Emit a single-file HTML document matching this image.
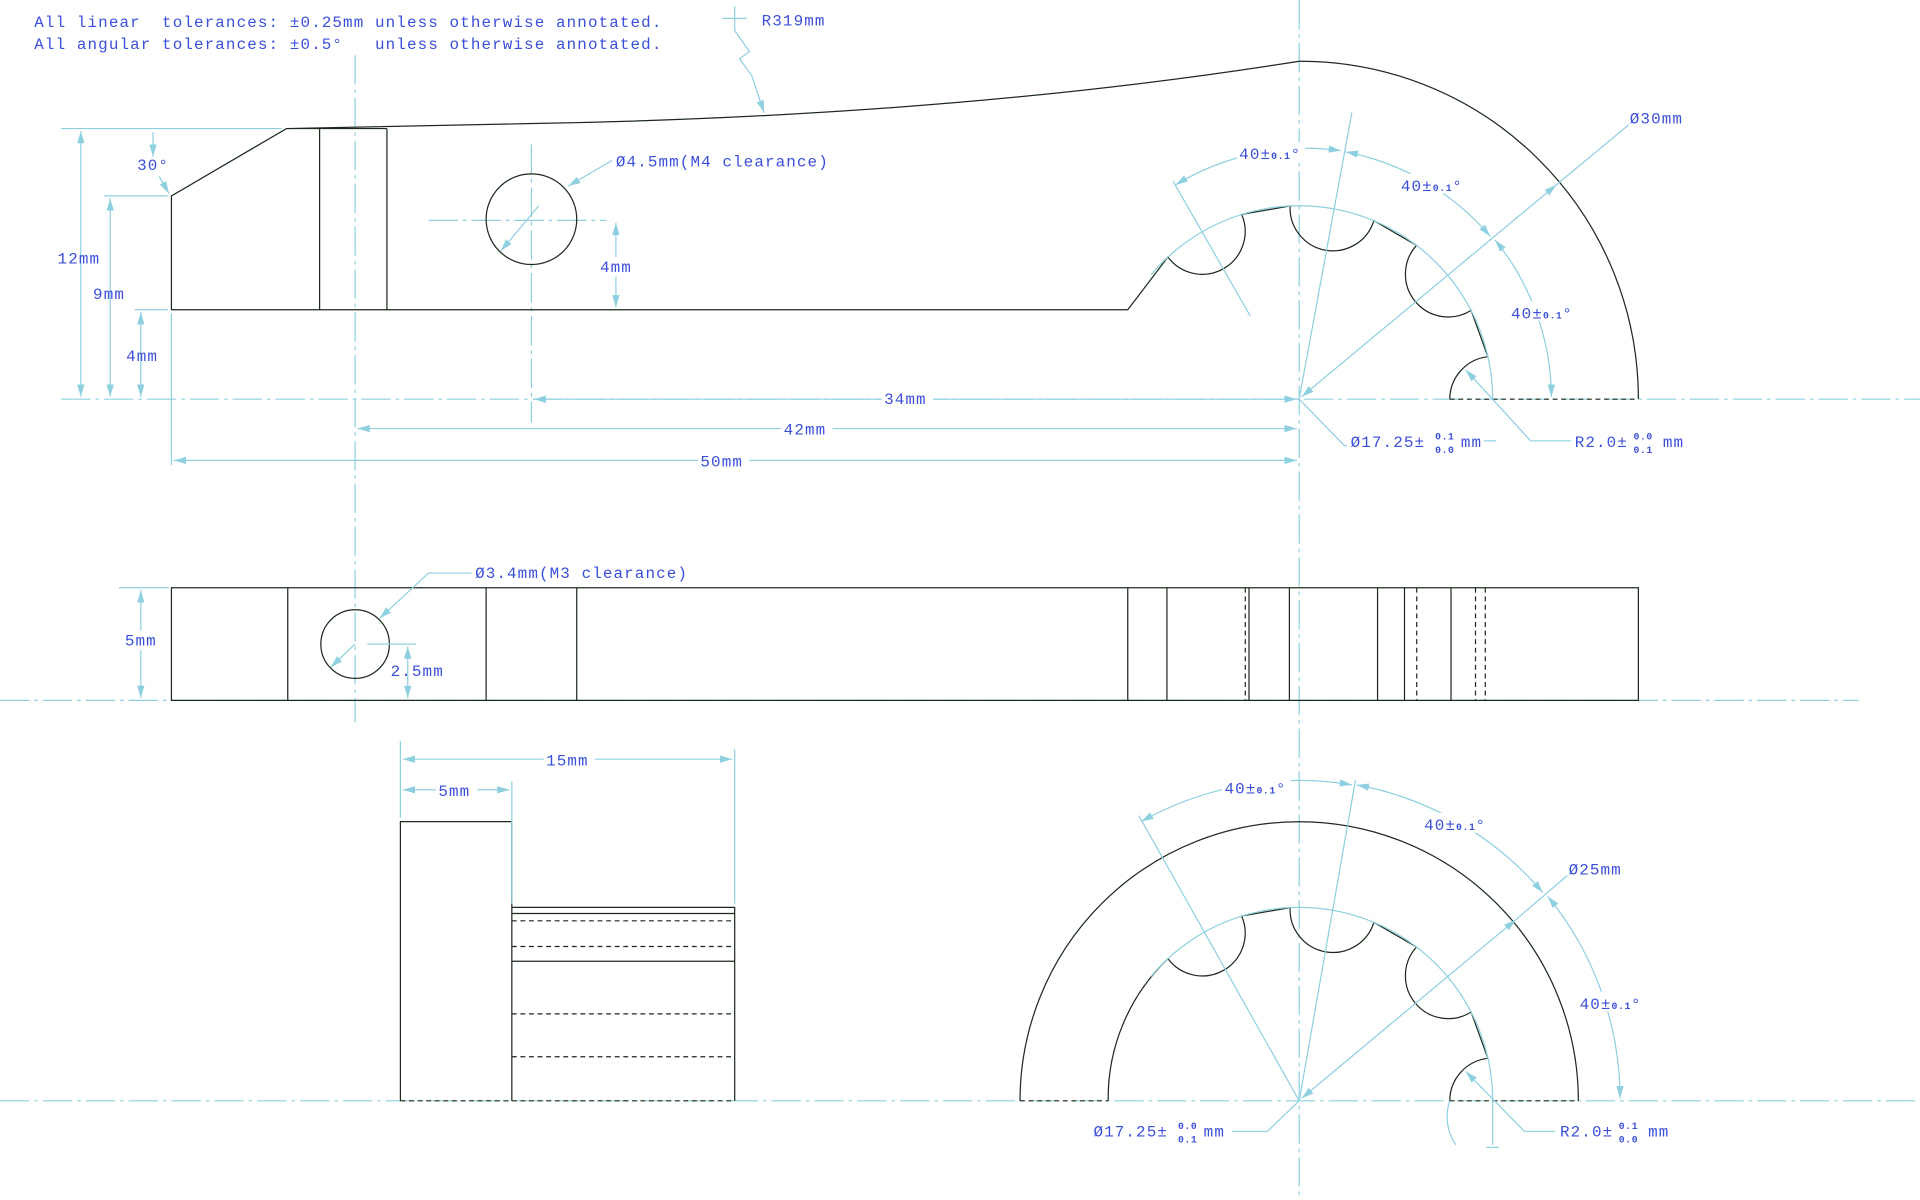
<!DOCTYPE html>
<html><head><meta charset="utf-8"><style>
html,body{margin:0;padding:0;background:#fff;width:1920px;height:1200px;overflow:hidden}
svg{display:block}
text{font-family:"Liberation Mono",monospace;fill:#3b4fd8;font-size:13px;letter-spacing:0.9px;white-space:pre}
.s{font-size:8px;letter-spacing:0.5px;font-weight:bold}
.k{stroke:#1c2a1c;stroke-width:1;fill:none}
.kd{stroke:#1c2a1c;stroke-width:1;fill:none;stroke-dasharray:4 3}
.b{stroke:#8fd0e0;stroke-width:1;fill:none}
.c{stroke:#8fd0e0;stroke-width:1;fill:none;stroke-dasharray:24 4 3 4}
.a{stroke:#8fd0e0;stroke-width:1;fill:none;marker-end:url(#ar)}
.aa{stroke:#8fd0e0;stroke-width:1;fill:none;marker-end:url(#ar);marker-start:url(#as)}
</style></head><body>
<svg width="1920" height="1200" viewBox="0 0 1568 980" xmlns="http://www.w3.org/2000/svg">
<defs>
<marker id="ar" markerWidth="10" markerHeight="6" refX="10" refY="3" orient="auto" markerUnits="userSpaceOnUse"><path d="M0,0 L10,3 L0,6z" fill="#8fd0e0"/></marker>
<marker id="as" markerWidth="10" markerHeight="6" refX="0" refY="3" orient="auto" markerUnits="userSpaceOnUse"><path d="M10,0 L0,3 L10,6z" fill="#8fd0e0"/></marker>
</defs>
<text x="28" y="22">All linear  tolerances: ±0.25mm unless otherwise annotated.</text>
<text x="28" y="40">All angular tolerances: ±0.5°   unless otherwise annotated.</text>

<!-- centerlines -->
<line class="c" x1="290" y1="45" x2="290" y2="590"/>
<line class="c" x1="1061" y1="0" x2="1061" y2="980"/>
<line class="c" x1="50" y1="326" x2="1568" y2="326"/>
<line class="c" x1="0" y1="572" x2="1518" y2="572"/>
<line class="c" x1="0" y1="899" x2="1568" y2="899"/>
<line class="c" x1="434" y1="118" x2="434" y2="345"/>
<line class="c" x1="350" y1="180" x2="495" y2="180"/>

<!-- top view -->
<path class="k" d="M1184,326 A35 35 0 0 1 1215.1,291.3 L1201.4,253.5 A35 35 0 0 1 1156.8,200.4 L1122,180.2 A35 35 0 0 1 1053.6,168.2 L1014,175.1 A35 35 0 0 1 953.8,209.9 L921,253 L140,253 L140,160 L234,105 L430,101 Q780,95 1061,50 A276 276 0 0 1 1338,326"/>
<line class="kd" x1="1184" y1="326" x2="1338" y2="326"/>
<line class="k" x1="261" y1="105" x2="261" y2="253"/>
<line class="k" x1="316" y1="105" x2="316" y2="253"/>
<line class="k" x1="234" y1="105" x2="316" y2="105"/>
<circle class="k" cx="434" cy="179" r="37"/>
<path class="b" d="M940,224.4 A158 158 0 0 1 1219,326"/>

<!-- left dims -->
<line class="b" x1="50" y1="105" x2="230" y2="105"/>
<line class="b" x1="85" y1="160" x2="137" y2="160"/>
<line class="b" x1="110" y1="253" x2="137" y2="253"/>
<line class="aa" x1="66" y1="107" x2="66" y2="324"/>
<line class="aa" x1="90" y1="162" x2="90" y2="324"/>
<line class="aa" x1="115" y1="255" x2="115" y2="324"/>
<line class="a" x1="125" y1="108" x2="125" y2="128"/>
<path class="a" d="M130,144 L138,158"/>
<text x="47" y="215">12mm</text><text x="76" y="244">9mm</text><text x="103" y="295">4mm</text><text x="112" y="139">30°</text>

<!-- bottom dims top view -->
<line class="b" x1="140" y1="256" x2="140" y2="380"/>
<line class="aa" x1="436" y1="326" x2="1059" y2="326"/>
<line class="aa" x1="292" y1="350" x2="1059" y2="350"/>
<line class="aa" x1="142" y1="376" x2="1059" y2="376"/>
<rect x="720" y="318" width="42" height="16" fill="#fff"/><text x="722" y="330">34mm</text>
<rect x="638" y="342" width="42" height="16" fill="#fff"/><text x="640" y="355">42mm</text>
<rect x="570" y="368" width="42" height="16" fill="#fff"/><text x="572" y="381">50mm</text>
<line class="aa" x1="503" y1="182" x2="503" y2="251"/>
<rect x="488" y="210" width="34" height="16" fill="#fff"/><text x="490" y="222">4mm</text>
<path class="a" d="M500,131 L464,152"/><line class="a" x1="440" y1="168" x2="409" y2="205"/>
<text x="503" y="136">Ø4.5mm(M4 clearance)</text>
<text x="622" y="21">R319mm</text>
<path class="b" d="M600,5 L600,25 M590,15 L610,15 M600,25 L612,42 L604,48 L614,62"/><path class="a" d="M614,62 L624,92"/>

<!-- angular dims top -->
<path class="b" d="M1021,258 L958,148"/>
<path class="b" d="M1061,326 L1104,92"/>
<path class="aa" d="M960,151 A206 206 0 0 1 1095,123"/>
<path class="aa" d="M1099,124 A206 206 0 0 1 1217,193"/>
<path class="aa" d="M1221,196 A206 206 0 0 1 1267,324"/>
<rect x="1010" y="116" width="56" height="16" fill="#fff"/><text x="1012" y="130">40±<tspan class="s">0.1</tspan>°</text>
<rect x="1142" y="142" width="56" height="16" fill="#fff"/><text x="1144" y="156">40±<tspan class="s">0.1</tspan>°</text>
<rect x="1232" y="246" width="56" height="16" fill="#fff"/><text x="1234" y="260">40±<tspan class="s">0.1</tspan>°</text>
<line class="aa" x1="1063" y1="324" x2="1271" y2="151"/>
<line class="b" x1="1271" y1="151" x2="1330" y2="102"/>
<text x="1331" y="101">Ø30mm</text>
<path class="b" d="M1061,326 L1098,364 L1100,364"/>
<text x="1103" y="365">Ø17.25±</text><text class="s" x="1172" y="359">0.1</text><text class="s" x="1172" y="370">0.0</text><text x="1193" y="365">mm</text>
<path class="a" d="M1250,360 L1197,302"/><line class="b" x1="1250" y1="360" x2="1283" y2="360"/>
<text x="1286" y="365">R2.0±</text><text class="s" x="1334" y="359">0.0</text><text class="s" x="1334" y="370">0.1</text><text x="1358" y="365">mm</text>
<path class="b" d="M1212,360 L1222,360"/>

<!-- side view -->
<rect class="k" x="140" y="480" width="1198" height="92"/>
<g class="k"><line x1="235" y1="480" x2="235" y2="572"/><line x1="397" y1="480" x2="397" y2="572"/><line x1="471" y1="480" x2="471" y2="572"/><line x1="921" y1="480" x2="921" y2="572"/><line x1="953" y1="480" x2="953" y2="572"/><line x1="1020" y1="480" x2="1020" y2="572"/><line x1="1053" y1="480" x2="1053" y2="572"/><line x1="1125" y1="480" x2="1125" y2="572"/><line x1="1147" y1="480" x2="1147" y2="572"/><line x1="1185" y1="480" x2="1185" y2="572"/></g>
<g class="kd"><line x1="1017" y1="480" x2="1017" y2="572"/><line x1="1157" y1="480" x2="1157" y2="572"/><line x1="1205" y1="480" x2="1205" y2="572"/><line x1="1213" y1="480" x2="1213" y2="572"/></g>
<circle class="k" cx="290" cy="526" r="28"/>
<line class="b" x1="97" y1="480" x2="138" y2="480"/>
<line class="aa" x1="115" y1="482" x2="115" y2="570"/>
<rect x="100" y="515" width="34" height="16" fill="#fff"/><text x="102" y="527">5mm</text>
<line class="b" x1="300" y1="526" x2="340" y2="526"/>
<line class="aa" x1="333" y1="528" x2="333" y2="570"/>
<text x="319" y="552">2.5mm</text>
<path class="b" d="M385,468 L350,468"/><path class="a" d="M350,468 L310,505"/><line class="a" x1="290" y1="526" x2="270" y2="545"/>
<text x="388" y="472">Ø3.4mm(M3 clearance)</text>

<!-- bottom left view -->
<path class="k" d="M327,899 L327,671 L418,671 L418,899 M418,741 L600,741 L600,899 M418,746 L600,746 M418,785 L600,785"/>
<g class="kd"><line x1="327" y1="899" x2="600" y2="899"/><line x1="418" y1="752" x2="600" y2="752"/><line x1="418" y1="773" x2="600" y2="773"/><line x1="418" y1="828" x2="600" y2="828"/><line x1="418" y1="863" x2="600" y2="863"/></g>
<line class="b" x1="327" y1="605" x2="327" y2="668"/><line class="b" x1="418" y1="638" x2="418" y2="738"/><line class="b" x1="600" y1="612" x2="600" y2="738"/>
<line class="aa" x1="329" y1="620" x2="598" y2="620"/>
<line class="aa" x1="329" y1="645" x2="416" y2="645"/>
<rect x="444" y="612" width="42" height="16" fill="#fff"/><text x="446" y="625">15mm</text>
<rect x="356" y="637" width="34" height="16" fill="#fff"/><text x="358" y="650">5mm</text>

<!-- bottom right view -->
<path class="k" d="M833,899 A228 228 0 0 1 1289,899"/>
<path class="k" d="M905,899 A158 158 0 0 1 953.8,782.9 A35 35 0 0 0 1014,748.1 L1053.6,741.2 A35 35 0 0 0 1122,753.2 L1156.8,773.4 A35 35 0 0 0 1201.4,826.5 L1215.1,864.3 A35 35 0 0 0 1184,899"/>
<g class="kd"><line x1="833" y1="899" x2="905" y2="899"/><line x1="1184" y1="899" x2="1289" y2="899"/></g>
<path class="b" d="M940,797.4 A158 158 0 0 1 1219,899"/>
<line class="b" x1="1061" y1="899" x2="930" y2="666"/>
<line class="b" x1="1061" y1="899" x2="1107" y2="637"/>
<path class="aa" d="M932,671 A262 262 0 0 1 1104,641"/>
<path class="aa" d="M1108,641 A262 262 0 0 1 1260,729"/>
<path class="aa" d="M1264,732 A262 262 0 0 1 1323,897"/>
<rect x="998" y="634" width="56" height="16" fill="#fff"/><text x="1000" y="648">40±<tspan class="s">0.1</tspan>°</text>
<rect x="1161" y="664" width="56" height="16" fill="#fff"/><text x="1163" y="678">40±<tspan class="s">0.1</tspan>°</text>
<rect x="1288" y="810" width="56" height="16" fill="#fff"/><text x="1290" y="824">40±<tspan class="s">0.1</tspan>°</text>
<line class="aa" x1="1063" y1="897" x2="1238" y2="751"/>
<line class="b" x1="1238" y1="751" x2="1280" y2="715"/>
<text x="1281" y="714">Ø25mm</text>
<path class="b" d="M1061,899 L1035,924 L1006,924"/>
<text x="893" y="928">Ø17.25±</text><text class="s" x="962" y="922">0.0</text><text class="s" x="962" y="933">0.1</text><text x="983" y="928">mm</text>
<path class="a" d="M1245,924 L1197,875"/><line class="b" x1="1245" y1="924" x2="1270" y2="924"/>
<text x="1274" y="928">R2.0±</text><text class="s" x="1322" y="922">0.1</text><text class="s" x="1322" y="933">0.0</text><text x="1346" y="928">mm</text>
<path class="b" d="M1189,935 A40 40 0 0 1 1184,899 M1219,899 L1219,935 M1214,937 L1224,937"/>
</svg>
</body></html>
